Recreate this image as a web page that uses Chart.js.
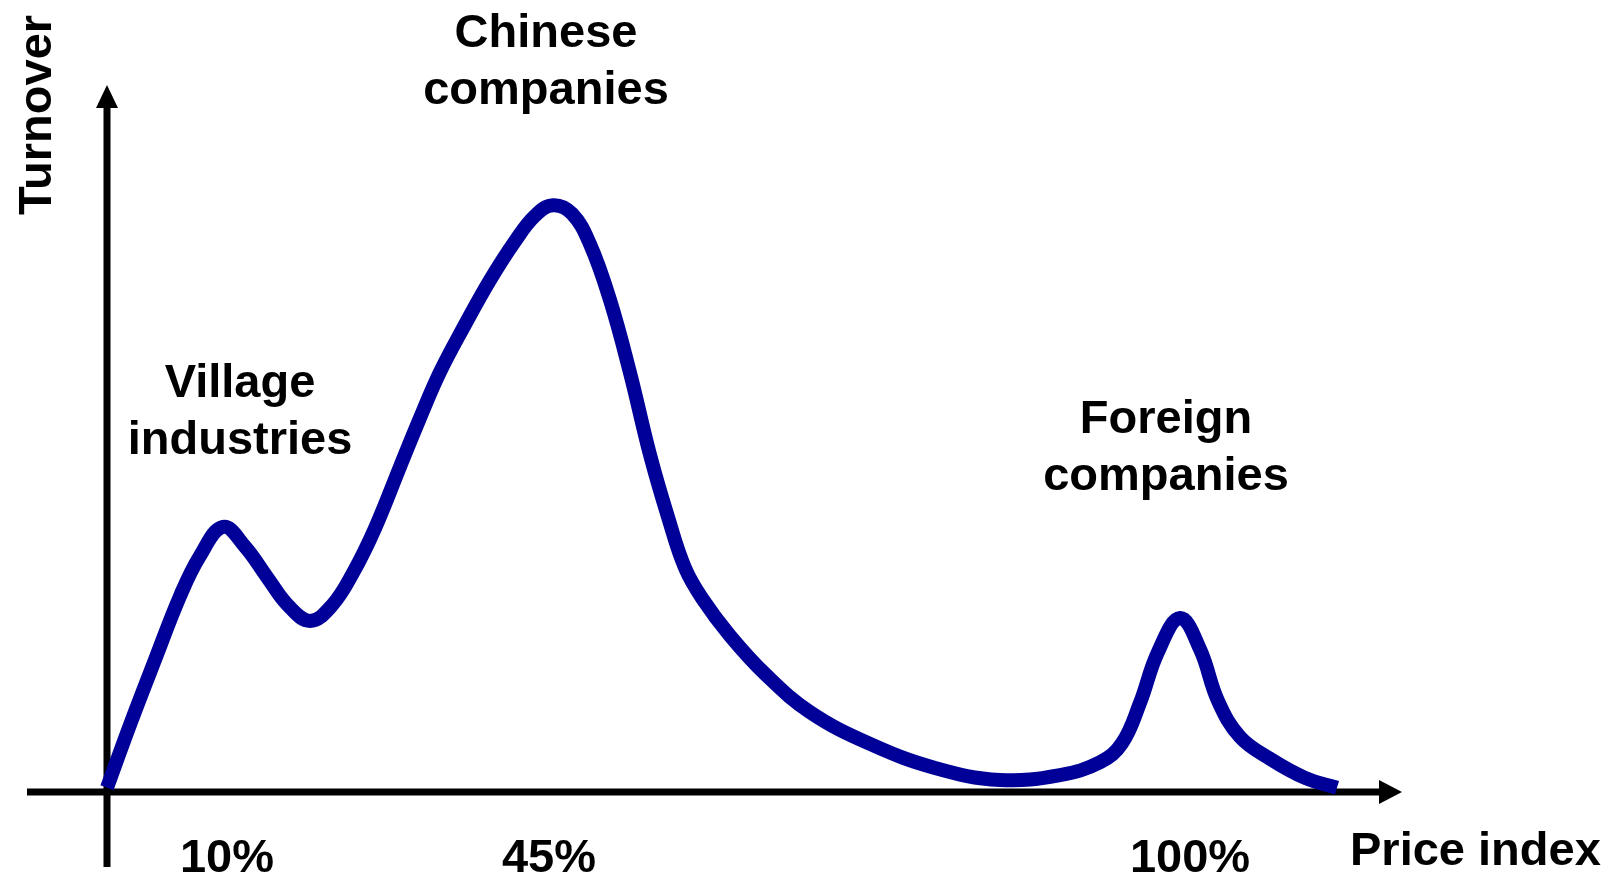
<!DOCTYPE html>
<html lang="en">
<head>
    <meta charset="UTF-8">
    <title>Turnover by price index</title>
    <script src="https://cdn.jsdelivr.net/npm/chart.js"></script>
    <style>
        body {
            margin: 0;
            background: #FFFFFF;
        }

        #wrap {
            position: relative;
            width: 1622px;
            height: 875px;
        }
    </style>
</head>
<body>

    <div id="wrap">
        <canvas id="turnoverChart"></canvas>
    </div>

    <script>
        // price index position (schematic units) and turnover
        const priceIndex = [0.0, 2.3, 4.8, 7.3, 9.3, 11.6, 13.8, 16.0, 18.1, 20.3, 22.5, 24.6, 26.8,
            29.3, 31.3, 33.3, 35.8, 38.3, 40.8, 42.8, 44.6, 46.5, 48.3, 50.3, 52.3, 54.3, 56.1,
            57.8, 59.6, 62.3, 65.8, 70.3, 76.3, 82.8, 89.3, 95.3, 99.3, 101.5, 103.3, 105.1,
            107.3, 109.3, 111.1, 113.3, 116.3, 119.8, 123.0];
        const turnover = [0.6, 9.5, 18.7, 27.7, 33.4, 37.5, 34.7, 30.4, 26.4, 24.2, 26.4, 31.0, 37.3,
            46.0, 52.9, 59.4, 66.1, 72.4, 77.9, 81.5, 83.0, 81.8, 77.5, 69.6, 59.3, 47.7, 38.9,
            31.7, 27.2, 22.1, 16.7, 11.3, 6.8, 3.4, 1.7, 2.4, 4.2, 6.9, 12.6, 19.8,
            24.6, 20.2, 12.9, 7.8, 4.7, 2.0, 0.6];

        const xTickValues = [12.0, 44.2, 108.3];
        const xTickLabels = ["10%", "45%", "100%"];

        const groupLabels = [["Village", "industries"], ["Chinese", "companies"], ["Foreign", "companies"]];
        const xAxisTitle = "Price index";
        const yAxisTitle = "Turnover";

        const FONT = 'bold 47px "Liberation Sans", Arial, sans-serif';

        // axes with arrow heads + the free text around the curve
        const sketchPlugin = {
            id: "sketch",
            beforeDatasetsDraw(chart) {
                const ctx = chart.ctx;
                const area = chart.chartArea;
                const x0 = chart.scales.x.getPixelForValue(0);
                const y0 = chart.scales.y.getPixelForValue(0);

                ctx.save();
                ctx.strokeStyle = "#000";
                ctx.fillStyle = "#000";
                ctx.lineWidth = 7;

                // x axis
                ctx.beginPath();
                ctx.moveTo(x0 - 80, y0);
                ctx.lineTo(area.right - 20, y0);
                ctx.stroke();
                ctx.beginPath();
                ctx.moveTo(area.right, y0);
                ctx.lineTo(area.right - 23, y0 - 12);
                ctx.lineTo(area.right - 23, y0 + 12);
                ctx.closePath();
                ctx.fill();

                // y axis
                ctx.beginPath();
                ctx.moveTo(x0, y0 + 75);
                ctx.lineTo(x0, area.top + 20);
                ctx.stroke();
                ctx.beginPath();
                ctx.moveTo(x0, area.top);
                ctx.lineTo(x0 - 11, area.top + 23);
                ctx.lineTo(x0 + 11, area.top + 23);
                ctx.closePath();
                ctx.fill();
                ctx.restore();
            },
            afterDraw(chart) {
                const ctx = chart.ctx;
                ctx.save();
                ctx.fillStyle = "#000";
                ctx.font = FONT;
                ctx.textAlign = "center";
                ctx.textBaseline = "alphabetic";

                const spots = [[240, 397], [546, 47], [1166, 433]];
                groupLabels.forEach((lines, i) => {
                    lines.forEach((line, j) => {
                        ctx.fillText(line, spots[i][0], spots[i][1] + j * 57);
                    });
                });

                ctx.textAlign = "left";
                ctx.fillText(xAxisTitle, 1350, 865);

                ctx.translate(51, 115);
                ctx.rotate(-Math.PI / 2);
                ctx.textAlign = "center";
                ctx.fillText(yAxisTitle, 0, 0);
                ctx.restore();
            }
        };

        new Chart(document.getElementById("turnoverChart"), {
            type: "line",
            data: {
                datasets: [{
                    data: priceIndex.map((x, i) => ({ x: x, y: turnover[i] })),
                    borderColor: "#000099",
                    borderWidth: 14,
                    borderCapStyle: "butt",
                    borderJoinStyle: "round",
                    tension: 0.4,
                    pointRadius: 0,
                    fill: false,
                    clip: false
                }]
            },
            options: {
                responsive: true,
                maintainAspectRatio: false,
                animation: false,
                events: [],
                layout: {
                    padding: { left: 107, right: 220, top: 85, bottom: 0 }
                },
                plugins: {
                    legend: { display: false },
                    tooltip: { enabled: false }
                },
                scales: {
                    x: {
                        type: "linear",
                        min: 0,
                        max: 129.5,
                        grid: { display: false },
                        border: { display: false },
                        afterBuildTicks: (scale) => {
                            scale.ticks = xTickValues.map(v => ({ value: v }));
                        },
                        afterFit: (scale) => {
                            scale.height = 83;
                        },
                        ticks: {
                            autoSkip: false,
                            maxRotation: 0,
                            padding: 31,
                            color: "#000",
                            font: { family: '"Liberation Sans", Arial, sans-serif', size: 47, weight: "bold" },
                            callback: (value, index) => xTickLabels[index]
                        }
                    },
                    y: {
                        display: false,
                        min: 0,
                        max: 100
                    }
                }
            },
            plugins: [sketchPlugin]
        });
    </script>

</body>
</html>
